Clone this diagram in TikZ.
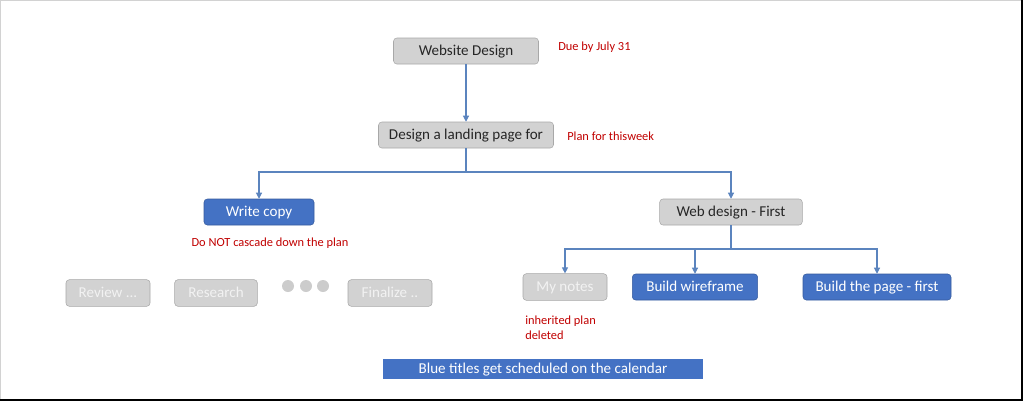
\documentclass[tikz,border=0pt]{standalone}
\usepackage{fontspec}
\setmainfont{Carlito}
\usetikzlibrary{arrows.meta}
\definecolor{taskblue}{HTML}{4472C4}
\definecolor{linkblue}{HTML}{5B84BE}
\definecolor{notered}{HTML}{C00000}
\definecolor{taskgrey}{HTML}{D2D2D2}
\definecolor{edgegrey}{HTML}{A8A8A8}
\tikzset{
  task/.style={rounded corners=2.5pt, inner sep=0pt, minimum height=19.5pt, text height=7.3pt, text depth=0pt, font=\fontsize{11.3}{13}\selectfont},
  greytask/.style={task, draw=edgegrey, fill=taskgrey, text=black!85},
  oldtask/.style={task, draw=edgegrey, fill=taskgrey, text=white!95!black, minimum height=20pt},
  bluetask/.style={task, draw=taskblue!80!black, fill=taskblue, text=white},
  note/.style={text=notered, font=\fontsize{9.3}{11}\selectfont, inner sep=0pt, anchor=west},
  link/.style={draw=linkblue, line width=0.8pt},
  arr/.style={link, -{Triangle[length=4.5pt, width=4.5pt]}}
}
\begin{document}
\begin{tikzpicture}[x=0.75pt, y=-0.75pt]
\useasboundingbox (0,0) rectangle (1024,401);
\draw[gray!35] (0.5,399) -- (0.5,0.5) -- (1021,0.5);
\draw[black, line width=1.6pt] (0,399.8) -- (1022.2,399.8) -- (1022.2,0);

\node[greytask, minimum width=108.75pt] (site) at (466,51) {Website Design};
\node[note] (due) at (558,47) {Due by July 31};
\node[greytask, minimum width=131.25pt] (landing) at (466,135) {Design a landing page for};
\node[note] (week) at (567,136) {Plan for thisweek};
\draw[arr] (site) -- (landing);

\node[bluetask, minimum width=82.5pt] (copy) at (259,212) {Write copy};
\node[greytask, minimum width=107pt] (web) at (731,212) {Web design - First};
\coordinate (split) at (466,172);
\draw[link] (landing) -- (split);
\draw[arr] (split) -| (copy);
\draw[arr] (split) -| (web);
\node[note, anchor=center] (cascade) at (270,243) {Do NOT cascade down the plan};

\node[oldtask, minimum width=63pt] (review) at (108,293) {Review ...};
\node[oldtask, minimum width=62pt] (research) at (216,293) {Research};
\foreach \i/\x in {1/288,2/306,3/323}
  \node[circle, fill=gray!40, inner sep=0pt, minimum size=9pt] (dot\i) at (\x,286) {};
\node[oldtask, minimum width=63pt] (final) at (390,293) {Finalize ..};

\node[oldtask, minimum width=63pt] (notes) at (565,287) {My notes};
\node[bluetask, minimum width=94pt] (frame) at (695,287) {Build wireframe};
\node[bluetask, minimum width=111pt] (build) at (877,287) {Build the page - first};
\coordinate (fork) at (731,249);
\draw[link] (web) -- (fork);
\draw[arr] (fork) -| (notes);
\draw[arr] (fork) -| (frame);
\draw[arr] (fork) -| (build);
\node[note, align=left, anchor=north west, font=\fontsize{9.3}{11.3}\selectfont] (gone) at (525,316) {inherited plan\\deleted};

\node[fill=taskblue, text=white, minimum width=240pt, minimum height=15pt, inner sep=0pt, text height=7.3pt, text depth=0pt, font=\fontsize{11.3}{13}\selectfont] (legend) at (543,369) {Blue titles get scheduled on the calendar};
\end{tikzpicture}
\end{document}
